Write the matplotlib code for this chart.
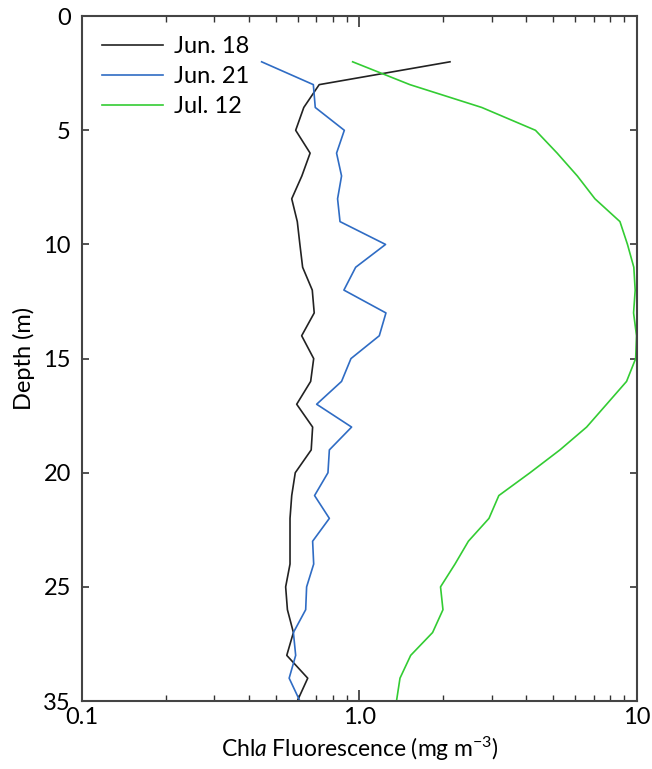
import matplotlib
matplotlib.use("Agg")
import matplotlib.pyplot as plt
from matplotlib.ticker import LogLocator, NullFormatter

# ===== Data =====
depth = [2, 3, 4, 5, 6, 7, 8, 9, 10, 11, 12, 13, 14, 15, 16,
         17, 18, 19, 20, 21, 22, 23, 24, 25, 26, 27, 28, 29, 30]

jun18 = [2.12, 0.716, 0.63, 0.589, 0.664, 0.62, 0.57, 0.597, 0.61, 0.624,
         0.676, 0.687, 0.619, 0.684, 0.667, 0.594, 0.678, 0.670, 0.587, 0.57,
         0.562, 0.562, 0.562, 0.542, 0.55, 0.578, 0.547, 0.651, 0.597]

jun21 = [0.444, 0.682, 0.693, 0.882, 0.827, 0.862, 0.834, 0.851, 1.242, 0.969,
         0.879, 1.246, 1.179, 0.932, 0.862, 0.701, 0.937, 0.779, 0.770, 0.689,
         0.779, 0.678, 0.684, 0.645, 0.640, 0.578, 0.589, 0.558, 0.61]

jul12 = [0.945, 1.52, 2.76, 4.31, 5.16, 6.10, 7.06, 8.69, 9.25, 9.75,
         9.86, 9.73, 9.97, 9.9, 9.18, 7.78, 6.59, 5.28, 4.12, 3.18,
         2.93, 2.47, 2.21, 1.96, 2.00, 1.835, 1.53, 1.40, 1.36]

series_labels = ["Jun. 18", "Jun. 21", "Jul. 12"]
series_colors = ["#222222", "#2f6cc4", "#33cc33"]

yticks = [0, 5, 10, 15, 20, 25, 30]
ytick_labels = ["0", "5", "10", "15", "20", "25", "35"]
xticks = [0.1, 1, 10]
xtick_labels = ["0.1", "1.0", "10"]

# ===== Style =====
plt.rcParams["font.family"] = ["Lato", "DejaVu Sans"]
plt.rcParams["mathtext.fontset"] = "custom"
plt.rcParams["mathtext.rm"] = "Lato"
plt.rcParams["mathtext.it"] = "Lato:italic"

fig = plt.figure(figsize=(6.52, 7.69), dpi=100)
ax = fig.add_axes([0.1258, 0.0884, 0.851, 0.8906])

for vals, lab, col in zip([jun18, jun21, jul12], series_labels, series_colors):
    ax.plot(vals, depth, color=col, linewidth=1.2, label=lab)

ax.set_xscale("log")
ax.set_xlim(0.1, 10)
ax.set_ylim(30, 0)

ax.set_xticks(xticks)
ax.set_xticklabels(xtick_labels)
ax.xaxis.set_minor_locator(LogLocator(base=10, subs=range(2, 10)))
ax.xaxis.set_minor_formatter(NullFormatter())
ax.set_yticks(yticks)
ax.set_yticklabels(ytick_labels)

ax.tick_params(which="both", direction="in", top=True, right=True,
               labelsize=17, color="#333333", pad=5)
ax.tick_params(which="major", length=8, width=1.2)
ax.tick_params(which="minor", length=4, width=1.0)
ax.tick_params(axis="y", which="major", length=5, pad=8)
ax.tick_params(axis="x", which="major", pad=4)

for sp in ax.spines.values():
    sp.set_color("#444444")
    sp.set_linewidth(1.5)

ax.set_xlabel(r"Chl$\mathit{a}$ Fluorescence (mg m$^{-3}$)", fontsize=16.5, labelpad=5)
ax.set_ylabel("Depth (m)", fontsize=17, labelpad=6)

ax.legend(loc="upper left", frameon=False, fontsize=17, handlelength=2.6,
          handletextpad=0.45, labelspacing=0.38, borderaxespad=0.45,
          bbox_to_anchor=(0.0, 1.0))

plt.savefig("out.png", dpi=100)
